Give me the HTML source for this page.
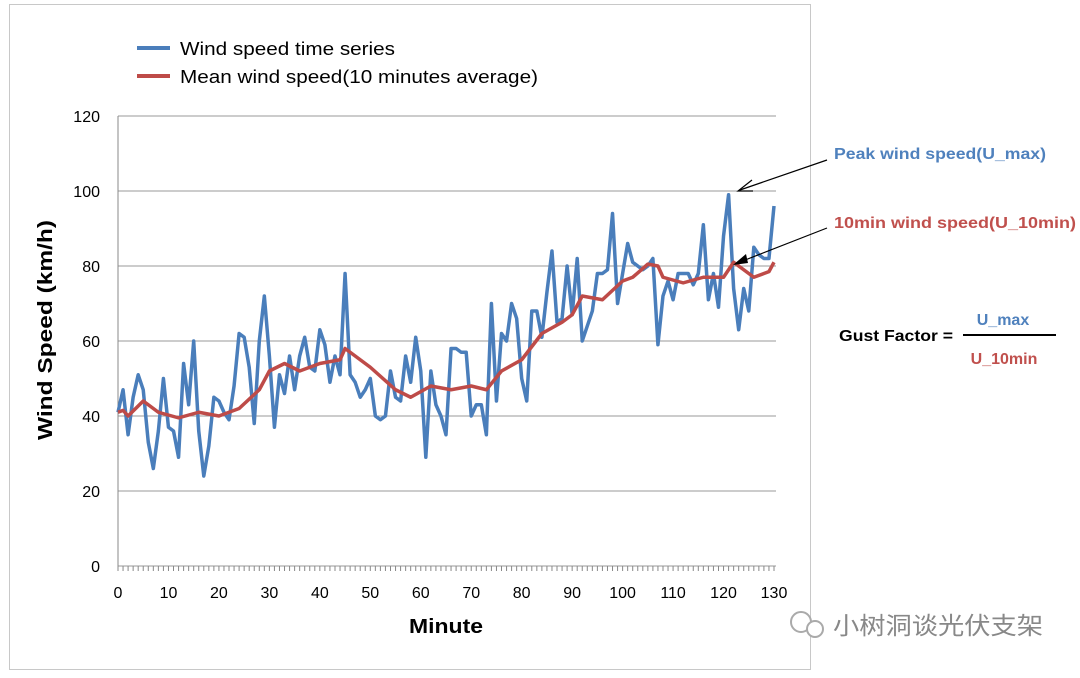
<!DOCTYPE html>
<html><head><meta charset="utf-8"><style>
body{margin:0;background:#fff;}
svg text{font-family:"Liberation Sans","Noto Sans CJK SC",sans-serif;}
</style></head><body>
<svg id="s" width="1080" height="673" xmlns="http://www.w3.org/2000/svg">
<rect x="0" y="0" width="1080" height="673" fill="#fff"/>
<rect x="9.5" y="4.5" width="801" height="665" fill="none" stroke="#c8c8c8"/>
<g id="grid" stroke="#999" stroke-width="1"></g>
<line x1="118" y1="116" x2="118" y2="566" stroke="#888"/>
<g id="ticks" font-size="16" fill="#000"></g>
<text x="52" y="330" font-size="20" font-weight="bold" transform="rotate(-90 52 330)" text-anchor="middle" textLength="220" lengthAdjust="spacingAndGlyphs">Wind Speed (km/h)</text>
<text x="446" y="633" font-size="20" font-weight="bold" text-anchor="middle" textLength="74" lengthAdjust="spacingAndGlyphs">Minute</text>
<line x1="137" y1="48" x2="170" y2="48" stroke="#4a7ebb" stroke-width="4"/>
<text x="180" y="55" font-size="18" textLength="215" lengthAdjust="spacingAndGlyphs">Wind speed time series</text>
<line x1="137" y1="76" x2="170" y2="76" stroke="#be4b48" stroke-width="4"/>
<text x="180" y="83" font-size="18" textLength="358" lengthAdjust="spacingAndGlyphs">Mean wind speed(10 minutes average)</text>
<polyline id="blue" fill="none" stroke="#4a7ebb" stroke-width="3.5" stroke-linejoin="round"/>
<polyline id="red" fill="none" stroke="#be4b48" stroke-width="3.5" stroke-linejoin="round"/>
<line x1="827" y1="160" x2="740" y2="190" stroke="#000" stroke-width="1.2"/>
<polyline points="752,180 738,191 753,191" fill="none" stroke="#000" stroke-width="1.2"/>
<line x1="827" y1="228" x2="740" y2="262" stroke="#000" stroke-width="1.2"/>
<polygon points="733,265 746,254 748,263" fill="#000"/>
<text x="834" y="159" font-size="16" font-weight="bold" fill="#4f81bd" textLength="212" lengthAdjust="spacingAndGlyphs">Peak wind speed(U_max)</text>
<text x="834" y="228" font-size="16" font-weight="bold" fill="#c0504d" textLength="242" lengthAdjust="spacingAndGlyphs">10min wind speed(U_10min)</text>
<text x="839" y="341" font-size="16" font-weight="bold" textLength="114" lengthAdjust="spacingAndGlyphs">Gust Factor =</text>
<line x1="963" y1="335" x2="1056" y2="335" stroke="#000" stroke-width="2"/>
<text x="1003" y="325" font-size="16" font-weight="bold" fill="#4f81bd" text-anchor="middle">U_max</text>
<text x="1004" y="364" font-size="16" font-weight="bold" fill="#c0504d" text-anchor="middle">U_10min</text>
<text x="833" y="634" font-size="24" fill="#888" textLength="210" lengthAdjust="spacingAndGlyphs">小树洞谈光伏支架</text>
<circle cx="801" cy="622" r="10" fill="none" stroke="#aaa" stroke-width="2"/>
<circle cx="815" cy="629" r="8" fill="#fff" stroke="#aaa" stroke-width="2"/>
</svg>
<script>
var ns="http://www.w3.org/2000/svg";
function X(m){return 118+m*656/130;}
function Y(v){return 566-v*3.75;}
var g=document.getElementById('grid'),t=document.getElementById('ticks');
for(var v=0;v<=120;v+=20){var l=document.createElementNS(ns,'line');l.setAttribute('x1',118);l.setAttribute('x2',776);l.setAttribute('y1',Y(v));l.setAttribute('y2',Y(v));g.appendChild(l);
var tx=document.createElementNS(ns,'text');tx.setAttribute('x',100);tx.setAttribute('y',Y(v)+6);tx.setAttribute('text-anchor','end');tx.textContent=v;t.appendChild(tx);}
for(var m=0;m<=130;m++){var l=document.createElementNS(ns,'line');l.setAttribute('x1',X(m));l.setAttribute('x2',X(m));l.setAttribute('y1',566);l.setAttribute('y2',571);l.setAttribute('stroke','#888');g.appendChild(l);
if(m%10==0){var tx=document.createElementNS(ns,'text');tx.setAttribute('x',X(m));tx.setAttribute('y',598);tx.setAttribute('text-anchor','middle');tx.textContent=m;t.appendChild(tx);}}
var b=[41,47,35,45,51,47,33,26,36,50,37,36,29,54,43,60,36,24,32,45,44,41,39,48,62,61,53,38,60,72,56,37,51,46,56,47,56,61,53,52,63,59,49,56,51,78,51,49,45,47,50,40,39,40,52,45,44,56,49,61,52,29,52,43,40,35,58,58,57,57,40,43,43,35,70,44,62,60,70,66,50,44,68,68,61,73,84,65,66,80,67,82,60,64,68,78,78,79,94,70,78,86,81,80,79,80,82,59,72,76,71,78,78,78,75,78,91,71,78,69,88,99,74,63,74,68,85,83,82,82,96];
document.getElementById('blue').setAttribute('points',b.map(function(v,i){return X(i)+','+Y(v)}).join(' '));
var r=[[0,41],[1,41.5],[2,40],[5,44],[8,41],[12,39.5],[16,41],[20,40],[24,42],[28,47],[30,52],[33,54],[36,52],[40,54],[44,55],[45,58],[50,53],[55,47],[58,45],[62,48],[66,47],[70,48],[73,47],[76,52],[80,55],[84,62],[88,65],[90,67],[92,72],[96,71],[100,76],[102,77],[105,80.5],[107,80],[108,77],[112,75.5],[116,77],[120,77],[122,81],[124,79],[126,77],[128,78],[129,78.5],[130,81]];
document.getElementById('red').setAttribute('points',r.map(function(p){return X(p[0])+','+Y(p[1])}).join(' '));
</script>
</body></html>
